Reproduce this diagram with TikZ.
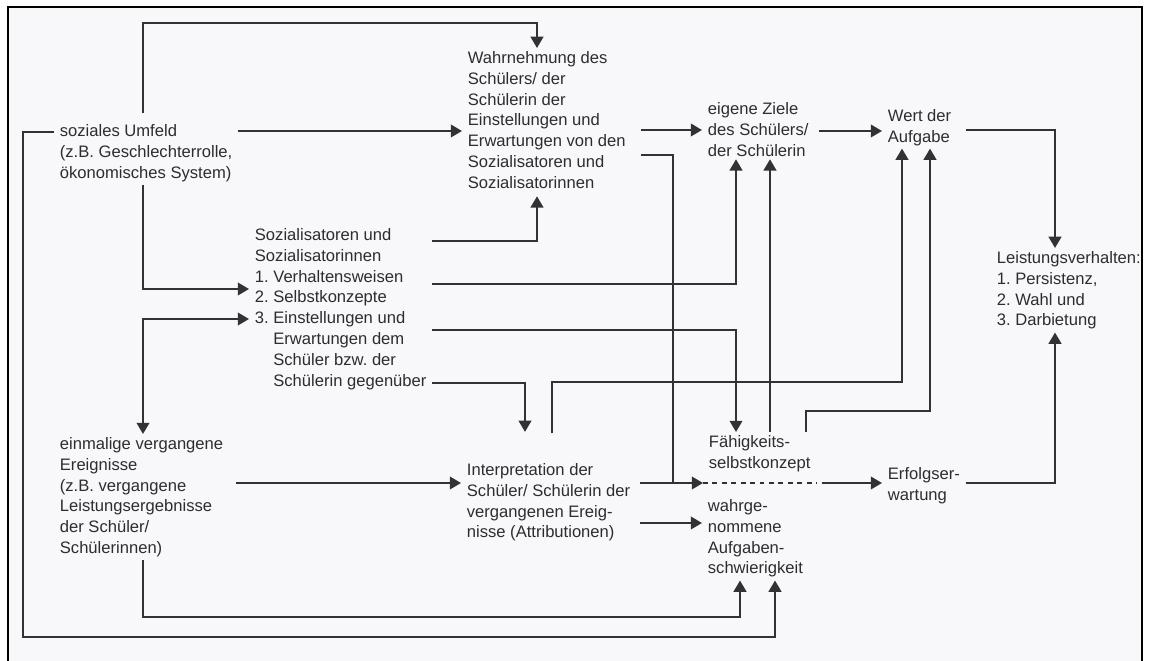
\documentclass[tikz,border=0pt]{standalone}
\usepackage{fontspec}
\setmainfont{Liberation Sans}
\usetikzlibrary{arrows.meta}
\definecolor{strich}{RGB}{50,50,50}
\definecolor{schrift}{RGB}{45,45,45}
\definecolor{grund}{RGB}{248,248,251}
\frenchspacing

\begin{document}
\begin{tikzpicture}[x=0.025cm,y=-0.025cm,
	feld/.style={anchor=north west,align=left,inner xsep=4pt,inner ysep=2pt,text=schrift,font=\fontsize{11.8}{14.9}\selectfont},
	linie/.style={draw=strich,line width=1.5pt},
	pfeil/.style={linie,-{Triangle[length=8pt,width=9pt]}}]
	\useasboundingbox[fill=white] (0,0) rectangle (1149,661);
	\fill[grund] (8,7) rectangle (1142,661);
	\draw[line width=1.6pt] (8,661) -- (8,7) -- (1142,7) -- (1142,661);

	\node[feld] (umfeld) at (54,121) {soziales Umfeld\\(z.B. Geschlechterrolle,\\ökonomisches System)};
	\node[feld] (wahr) at (462,48) {Wahrnehmung des\\Schülers/ der\\Schülerin der\\Einstellungen und\\Erwartungen von den\\Sozialisatoren und\\Sozialisatorinnen};
	\node[feld] (ziele) at (702,99) {eigene Ziele\\des Schülers/\\der Schülerin};
	\node[feld] (wert) at (882,106) {Wert der\\Aufgabe};
	\node[feld] (sozial) at (249,225) {Sozialisatoren und\\Sozialisatorinnen\\1. Verhaltensweisen\\2. Selbstkonzepte\\3. Einstellungen und\\\hphantom{3.~}Erwartungen dem\\\hphantom{3.~}Schüler bzw. der\\\hphantom{3.~}Schülerin gegenüber};
	\node[feld] (einmal) at (54,434) {einmalige vergangene\\Ereignisse\\(z.B. vergangene\\Leistungsergebnisse\\der Schüler/\\Schülerinnen)};
	\node[feld] (interp) at (461,460) {Interpretation der\\Schüler/ Schülerin der\\vergangenen Ereig-\\nisse (Attributionen)};
	\node[feld] (faeh) at (703,432) {Fähigkeits-\\selbstkonzept};
	\node[feld] (aufg) at (702,496) {wahrge-\\nommene\\Aufgaben-\\schwierigkeit};
	\node[feld] (erfolg) at (882,464) {Erfolgser-\\wartung};
	\node[feld] (leist) at (991,248) {Leistungsverhalten:\\1. Persistenz,\\2. Wahl und\\3. Darbietung};

	\coordinate (knick) at (673,483);
	\coordinate (trenn) at (817,483);

	\draw[pfeil,shorten <=6pt] (umfeld.north -| 143,0) |- (537,23) -- (wahr.north -| 537,0);
	\draw[pfeil] (umfeld.east |- 0,131) -- (wahr.west |- 0,131);
	\draw[pfeil] (umfeld.west |- 0,132) -| (23,637) -| (aufg.south -| 775,0);
	\draw[pfeil] (umfeld.south -| 143,0) |- (sozial.west |- 0,289);
	\draw[pfeil,shorten >=3pt] (sozial.east |- 0,241) -| (wahr.south -| 537,0);
	\draw[pfeil] (sozial.east |- 0,284) -| (ziele.south -| 736,0);
	\draw[pfeil] (sozial.east |- 0,330) -| (faeh.north -| 736,0);
	\draw[pfeil,shorten >=20pt] (sozial.east |- 0,383) -| (interp.north -| 525,0);
	\draw[{Triangle[length=8pt,width=9pt]}-{Triangle[length=8pt,width=9pt]},linie] (einmal.north -| 143,0) |- (sozial.west |- 0,319);
	\draw[pfeil,shorten <=5pt] (einmal.east |- 0,483) -- (interp.west |- 0,483);
	\draw[pfeil] (einmal.south -| 143,0) |- (740,617) -- (aufg.south -| 740,0);
	\draw[pfeil,shorten <=7pt] (wahr.east |- 0,130) -- (ziele.west |- 0,130);
	\draw[linie,shorten <=7pt] (wahr.east |- 0,155) -| (knick);
	\draw[pfeil,shorten <=19pt] (interp.north -| 552,0) -- (552,382) -| (wert.south -| 902,0);
	\draw[pfeil,shorten <=3pt] (interp.east |- knick) -- (faeh.west |- knick);
	\draw[pfeil,shorten <=3pt] (interp.east |- 0,523) -- (aufg.west |- 0,523);
	\draw[pfeil,shorten <=3pt] (ziele.east |- 0,131) -- (wert.west |- 0,131);
	\draw[pfeil,shorten <=6pt] (wert.east |- 0,130) -| (leist.north -| 1055,0);
	\draw[pfeil] (faeh.north -| 770,0) -- (ziele.south -| 770,0);
	\draw[pfeil] (faeh.north -| 806,0) -- (806,411) -| (wert.south -| 930,0);
	\draw[strich,line width=1pt,dash pattern=on 3.5pt off 3.2pt] (faeh.west |- trenn) -- (trenn);
	\draw[pfeil,shorten <=3.5pt] (trenn) -- (erfolg.west |- trenn);
	\draw[pfeil] (erfolg.east |- trenn) -| (leist.south -| 1055,0);
\end{tikzpicture}
\end{document}
